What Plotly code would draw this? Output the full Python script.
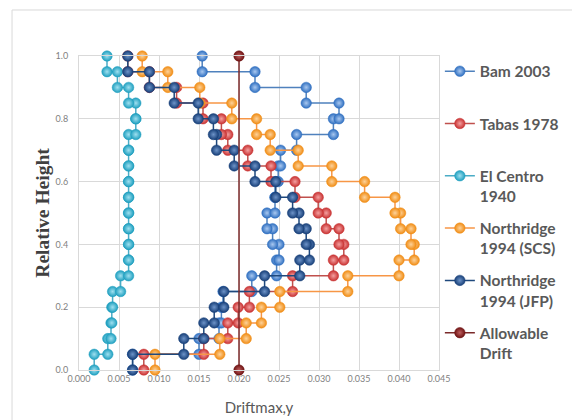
import plotly.graph_objects as go

# Relative height levels (floor levels)
heights = [0.00, 0.05, 0.10, 0.15, 0.20, 0.25, 0.30, 0.35, 0.40, 0.45, 0.50,
           0.55, 0.60, 0.65, 0.70, 0.75, 0.80, 0.85, 0.90, 0.95, 1.00]

# Story drift (one value per story, bottom to top)
bam_2003 = [0.0067, 0.0150, 0.0175, 0.0178, 0.0180, 0.0216, 0.0247, 0.0250, 0.0242, 0.0235,
            0.0245, 0.0245, 0.0249, 0.0252, 0.0272, 0.0318, 0.0325, 0.0284, 0.0220, 0.0154]
tabas_1978 = [0.0081, 0.0156, 0.0186, 0.0199, 0.0213, 0.0267, 0.0318, 0.0331, 0.0325, 0.0309,
              0.0299, 0.0270, 0.0240, 0.0211, 0.0186, 0.0178, 0.0155, 0.0122, 0.0088, 0.0061]
el_centro_1940 = [0.0019, 0.0036, 0.0040, 0.0041, 0.0042, 0.0052, 0.0062, 0.0062, 0.0062, 0.0062,
                  0.0062, 0.0062, 0.0062, 0.0062, 0.0062, 0.0071, 0.0071, 0.0062, 0.0048, 0.0035]
northridge_scs = [0.0095, 0.0176, 0.0209, 0.0228, 0.0251, 0.0336, 0.0400, 0.0419, 0.0415, 0.0402,
                  0.0395, 0.0357, 0.0316, 0.0274, 0.0239, 0.0222, 0.0191, 0.0151, 0.0111, 0.0079]
northridge_jfp = [0.0067, 0.0131, 0.0156, 0.0169, 0.0181, 0.0232, 0.0276, 0.0288, 0.0284, 0.0275,
                  0.0267, 0.0246, 0.0220, 0.0194, 0.0172, 0.0168, 0.0149, 0.0119, 0.0088, 0.0061]
allowable_x = [0.020, 0.020]
allowable_y = [0.0, 1.0]

x_ticks = [0.000, 0.005, 0.010, 0.015, 0.020, 0.025, 0.030, 0.035, 0.040, 0.045]
y_ticks = [0.0, 0.2, 0.4, 0.6, 0.8, 1.0]


def step_xy(drifts):
    xs, ys = [], []
    for i, d in enumerate(drifts):
        xs += [d, d]
        ys += [heights[i], heights[i + 1]]
    return xs, ys


series = [
    ("Bam 2003<br> ", bam_2003, "#4f81bd", "#2f6fc0", "#a9c8f0"),
    ("Tabas 1978<br> ", tabas_1978, "#c0504d", "#c83232", "#f4a0a0"),
    ("El Centro<br>1940", el_centro_1940, "#4bacc6", "#1f9fbf", "#9fe0f0"),
    ("Northridge<br>1994 (SCS)", northridge_scs, "#f79646", "#f08c14", "#fdd29a"),
    ("Northridge<br>1994 (JFP)", northridge_jfp, "#1f497d", "#173f78", "#6d93c8"),
]

fig = go.Figure()
for i, (name, vals, lc, mc, gc) in enumerate(series):
    xs, ys = step_xy(vals)
    fig.add_trace(go.Scatter(
        x=xs, y=ys, name=name, mode="lines+markers", legendgroup=str(i),
        line=dict(color=lc, width=1.5),
        marker=dict(size=10.5, color=mc, line=dict(width=0.5, color=mc),
                    gradient=dict(type="radial", color=gc)),
        cliponaxis=False,
    ))

fig.add_trace(go.Scatter(
    x=allowable_x, y=allowable_y, name="Allowable<br>Drift", mode="lines+markers",
    legendgroup="5",
    line=dict(color="#7b2a2a", width=1.5),
    marker=dict(size=10.5, color="#6e1212", line=dict(width=0.5, color="#6e1212"),
                gradient=dict(type="radial", color="#c06060")),
    cliponaxis=False,
))

grid = "#d9d9d9"
tick_font = dict(family="Lato, sans-serif", size=9, color="#7f7f7f")

fig.update_layout(
    width=572, height=420,
    margin=dict(l=79, r=133, t=56, b=50),
    paper_bgcolor="white", plot_bgcolor="white",
    xaxis=dict(
        range=[0, 0.045], tickvals=x_ticks, tickformat=".3f", automargin=False,
        showgrid=True, gridcolor=grid, gridwidth=1,
        showline=True, linecolor=grid, linewidth=1, mirror=True,
        zeroline=False, tickfont=tick_font, ticks="",
        title=dict(text="Driftmax,y", standoff=19,
                   font=dict(family="Lato, sans-serif", size=15, color="#595959")),
    ),
    yaxis=dict(
        range=[0, 1], tickvals=y_ticks, tickformat=".1f", automargin=False,
        showgrid=True, gridcolor=grid, gridwidth=1,
        showline=True, linecolor=grid, linewidth=1, mirror=True,
        zeroline=False, tickfont=tick_font, ticks="", ticklabelstandoff=8,
        title=dict(text="<b>Relative Height</b>", standoff=0,
                   font=dict(family="Liberation Serif, serif", size=19.5, color="#404040")),
    ),
    legend=dict(
        xref="container", yref="container",
        x=0.769, y=0.870, xanchor="left", yanchor="top",
        valign="top", tracegroupgap=9, maxheight=400,
        font=dict(family="Lato, sans-serif", size=15.5, color="#595959", weight="bold"),
        bgcolor="rgba(0,0,0,0)",
    ),
    shapes=[dict(type="rect", xref="paper", yref="paper",
                 x0=-0.186, x1=1.5, y0=-0.2, y1=1.1465,
                 line=dict(color="#d9d9d9", width=1), layer="below")],
)

fig.write_html("out.html", config={"displayModeBar": False},
               post_script="document.body.style.margin='0';document.body.style.overflow='hidden';")
